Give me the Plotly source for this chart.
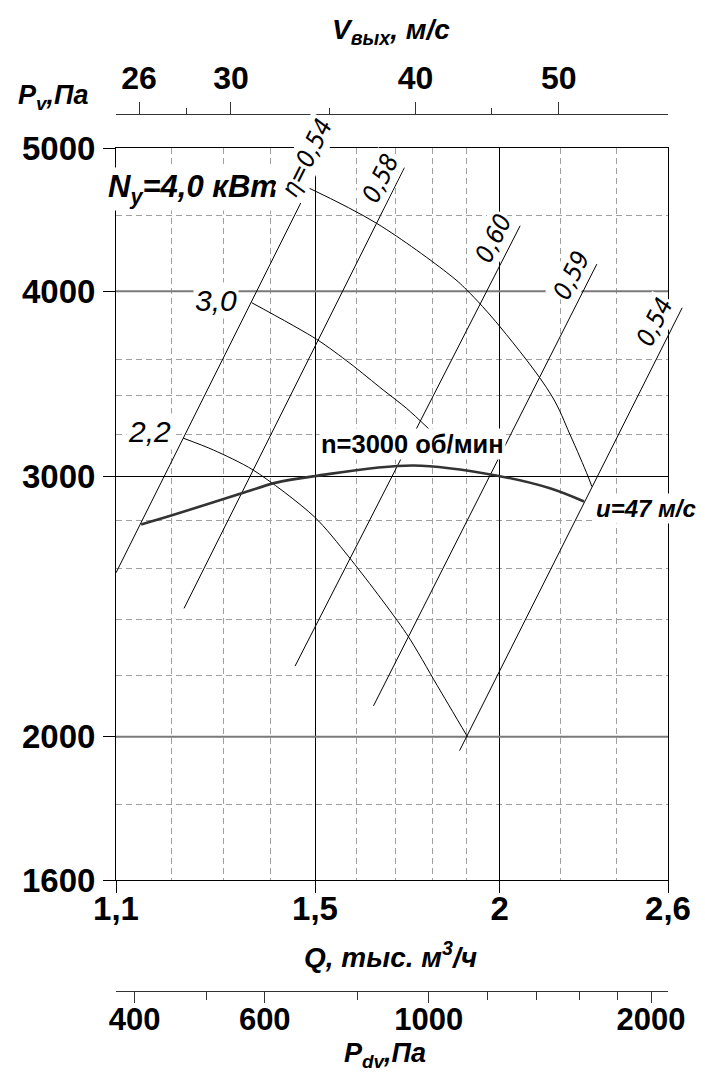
import numpy as np
import plotly.graph_objects as go

# ---------------- data ----------------
Q_RANGE = [1.1, 2.6]
Q_TICKS = [1.1, 1.5, 2.0, 2.6]
Q_TICK_TEXT = ["1,1", "1,5", "2", "2,6"]
Q_GRID_MINOR = [1.2, 1.3, 1.4, 1.6, 1.7, 1.8, 1.9, 2.2, 2.4]

P_RANGE = [1600, 5000]
P_TICKS = [1600, 2000, 3000, 4000, 5000]
P_TICK_TEXT = ["1600", "2000", "3000", "4000", "5000"]
P_GRID_MINOR = [1800, 2200, 2400, 2600, 2800, 3200, 3400, 3600, 4500]
P_GRID_BOLD = [2000, 4000]

V_PER_Q = 22.8          # outlet velocity, m/s per 1 thousand m3/h
V_TICKS = [26, 30, 40, 50]
V_MINOR = [28, 35, 45]

PDV_PER_V2 = 0.6        # dynamic pressure = 0.6 * V^2
PDV_TICKS = [400, 600, 1000, 2000]
PDV_MINOR = [500, 800, 1200, 1400, 1600, 1800]

# fan pressure curve, n = 3000 rpm
main_Q = [1.144, 1.202, 1.338, 1.412, 1.498, 1.749, 2.000, 2.163, 2.281]
main_P = [2783, 2824, 2921, 2970, 3000, 3050, 3000, 2944, 2884]

# power curves
N40_Q = [1.487, 1.651, 1.851, 1.900, 2.001, 2.169, 2.232, 2.295, 2.309]
N40_P = [4696, 4447, 4103, 4009, 3786, 3400, 3200, 3000, 2952]
N30_Q = [1.359, 1.504, 1.584, 1.668, 1.730, 1.794]
N30_P = [3930, 3712, 3576, 3431, 3334, 3224]
N22_Q = [1.2215, 1.280, 1.362, 1.498, 1.581, 1.729, 1.814, 1.902]
N22_P = [3183, 3125, 3029, 2817, 2646, 2349, 2167, 2000]

# efficiency lines (start / end points)
eta_labels = ["η=0,54", "0,58", "0,60", "0,59", "0,54"]
eta_Q_start = [1.100, 1.223, 1.454, 1.643, 1.879]
eta_P_start = [2581, 2442, 2232, 2098, 1957]
eta_Q_end = [1.550, 1.724, 2.065, 2.327, 2.658]
eta_P_end = [5124, 4849, 4430, 4173, 3899]

# ---------------- layout constants ----------------
W, H = 705, 1075
PX_L, PX_R, PX_T, PX_B = 116, 668, 148, 880
TOP_AXIS_PX = 114
PDV_AXIS_PX = 991
FONT = "Liberation Sans, Arial, sans-serif"
NARROW = "Liberation Sans Narrow, DejaVu Sans Condensed, sans-serif"

xd = [PX_L / W, PX_R / W]
yd = [1 - PX_B / H, 1 - PX_T / H]
lx0, lx1 = np.log10(Q_RANGE)
ly0, ly1 = np.log10(P_RANGE)
sx = (lx1 - lx0) / (PX_R - PX_L)
sy = (ly1 - ly0) / (PX_B - PX_T)
x3_range = [lx0 - PX_L * sx, lx1 + (W - PX_R) * sx]
y3_range = [ly0 - (H - PX_B) * sy, ly1 + PX_T * sy]

V_range = [np.log10(V_PER_Q * q) for q in Q_RANGE]
PDV_range = [np.log10(PDV_PER_V2 * (V_PER_Q * q) ** 2) for q in Q_RANGE]

fig = go.Figure()

def ghost(xa, x):
    fig.add_trace(go.Scatter(x=[x], y=[3000], xaxis=xa, yaxis="y", mode="markers",
                             marker=dict(opacity=0), hoverinfo="skip", showlegend=False))

ghost("x", 1.5)
ghost("x2", V_TICKS[1])
ghost("x4", PDV_TICKS[1])

def curve(qs, ps, width=1.0, color="black", smoothing=0.8):
    fig.add_trace(go.Scatter(x=qs, y=ps, xaxis="x3", yaxis="y3", mode="lines",
                             line=dict(color=color, width=width, shape="spline", smoothing=smoothing),
                             hoverinfo="skip", showlegend=False))

for i in range(len(eta_labels)):
    fig.add_trace(go.Scatter(x=[eta_Q_start[i], eta_Q_end[i]], y=[eta_P_start[i], eta_P_end[i]],
                             xaxis="x3", yaxis="y3", mode="lines",
                             line=dict(color="black", width=1), hoverinfo="skip", showlegend=False))
curve(N40_Q, N40_P, smoothing=1.0)
curve(N30_Q, N30_P)
curve(N22_Q, N22_P)
curve(main_Q, main_P, width=2.6, color="#333333", smoothing=1.0)

for p in P_GRID_BOLD:
    fig.add_shape(type="line", xref="x", yref="y", x0=Q_RANGE[0], x1=Q_RANGE[1], y0=p, y1=p,
                  line=dict(color="#7a7a7a", width=2), layer="between")

tick_font = dict(family=FONT, size=33, color="black", weight="bold")

fig.update_layout(
    template="none",
    width=W, height=H, margin=dict(l=0, r=0, t=0, b=0, autoexpand=False),
    paper_bgcolor="white", plot_bgcolor="rgba(0,0,0,0)", showlegend=False,
    xaxis=dict(type="log", range=[lx0, lx1], domain=xd, anchor="y", automargin=False,
               tickmode="array", tickvals=Q_TICKS, ticktext=Q_TICK_TEXT,
               ticks="outside", ticklen=12, tickwidth=1, tickcolor="black",
               showline=True, linecolor="black", linewidth=1, mirror=True,
               showgrid=True, gridcolor="black", gridwidth=1, zeroline=False,
               tickfont=tick_font, ticklabelstandoff=-13,
               minor=dict(tickmode="array", tickvals=Q_GRID_MINOR, showgrid=True,
                          gridcolor="#a0a0a0", griddash="6px,4px", gridwidth=1, ticklen=0)),
    yaxis=dict(type="log", range=[ly0, ly1], domain=yd, anchor="x", automargin=False,
               tickmode="array", tickvals=P_TICKS, ticktext=P_TICK_TEXT,
               ticks="outside", ticklen=12, tickwidth=1, tickcolor="black",
               showline=True, linecolor="black", linewidth=1, mirror=True,
               showgrid=True, gridcolor="black", gridwidth=1, zeroline=False,
               tickfont=tick_font, ticklabelstandoff=1,
               minor=dict(tickmode="array", tickvals=P_GRID_MINOR, showgrid=True,
                          gridcolor="#a0a0a0", griddash="6px,4px", gridwidth=1, ticklen=0)),
    xaxis2=dict(type="log", range=V_range, overlaying="x", anchor="free", automargin=False,
                position=1 - TOP_AXIS_PX / H, side="top",
                tickmode="array", tickvals=V_TICKS, ticktext=[str(v) for v in V_TICKS],
                ticks="outside", ticklen=12, tickwidth=1, tickcolor="#333",
                showline=True, linecolor="#333", linewidth=1, showgrid=False, zeroline=False,
                tickfont=dict(family=FONT, size=32, color="black", weight="bold"),
                minor=dict(tickmode="array", tickvals=V_MINOR, ticks="outside", ticklen=6,
                           tickcolor="#333", showgrid=False)),
    xaxis4=dict(type="log", range=PDV_range, overlaying="x", anchor="free", automargin=False,
                position=1 - PDV_AXIS_PX / H, side="bottom",
                tickmode="array", tickvals=PDV_TICKS, ticktext=[str(v) for v in PDV_TICKS],
                ticks="outside", ticklen=11, tickwidth=1, tickcolor="#333",
                showline=True, linecolor="#333", linewidth=1, showgrid=False, zeroline=False,
                tickfont=dict(family=FONT, size=31, color="black", weight="bold"),
                ticklabelstandoff=-10,
                minor=dict(tickmode="array", tickvals=PDV_MINOR, ticks="outside", ticklen=8,
                           tickcolor="#333", showgrid=False)),
    xaxis3=dict(type="log", range=x3_range, domain=[0, 1], anchor="y3", visible=False,
                automargin=False),
    yaxis3=dict(type="log", range=y3_range, domain=[0, 1], anchor="x3", visible=False,
                automargin=False),
)

def ann(text, px, py, size, bold=True, italic=True, bg=None, angle=0, family=FONT):
    fig.add_annotation(text=text, x=px / W, y=1 - py / H, xref="paper", yref="paper",
                       xanchor="center", yanchor="middle", showarrow=False, textangle=angle,
                       bgcolor=bg, borderpad=1,
                       font=dict(family=family, size=size, color="black",
                                 weight="bold" if bold else "normal",
                                 style="italic" if italic else "normal"))

ann("V<sub>вых</sub>, м/с", 391, 31, 28)
ann("P<sub>v</sub>,Па", 53, 97, 27)
ann("Q, тыс. м<sup>3</sup>/ч", 390, 955, 28)
ann("P<sub>dv</sub>,Па", 385, 1055, 27)
ann("N<sub>y</sub>=4,0 кВт", 193, 189, 31, bg="white")
ann("3,0", 216, 300, 30, bold=False, bg="white")
ann("2,2", 149, 431, 30, bold=False, bg="white")
ann("n=3000 об/мин", 413, 444, 25.5, italic=False, bg="white")
ann("u=47 м/с", 646, 509, 24, bg="white")

eta_px = [(306, 158), (380, 178), (493, 238), (571, 275), (655, 322)]
for lab, (px, py) in zip(eta_labels, eta_px):
    ann(lab, px, py, 25, bold=False, italic=True, bg="white", angle=-63.4, family=NARROW)

fig.write_html("out.html", config={"displayModeBar": False},
               post_script="document.body.style.margin='0';")
